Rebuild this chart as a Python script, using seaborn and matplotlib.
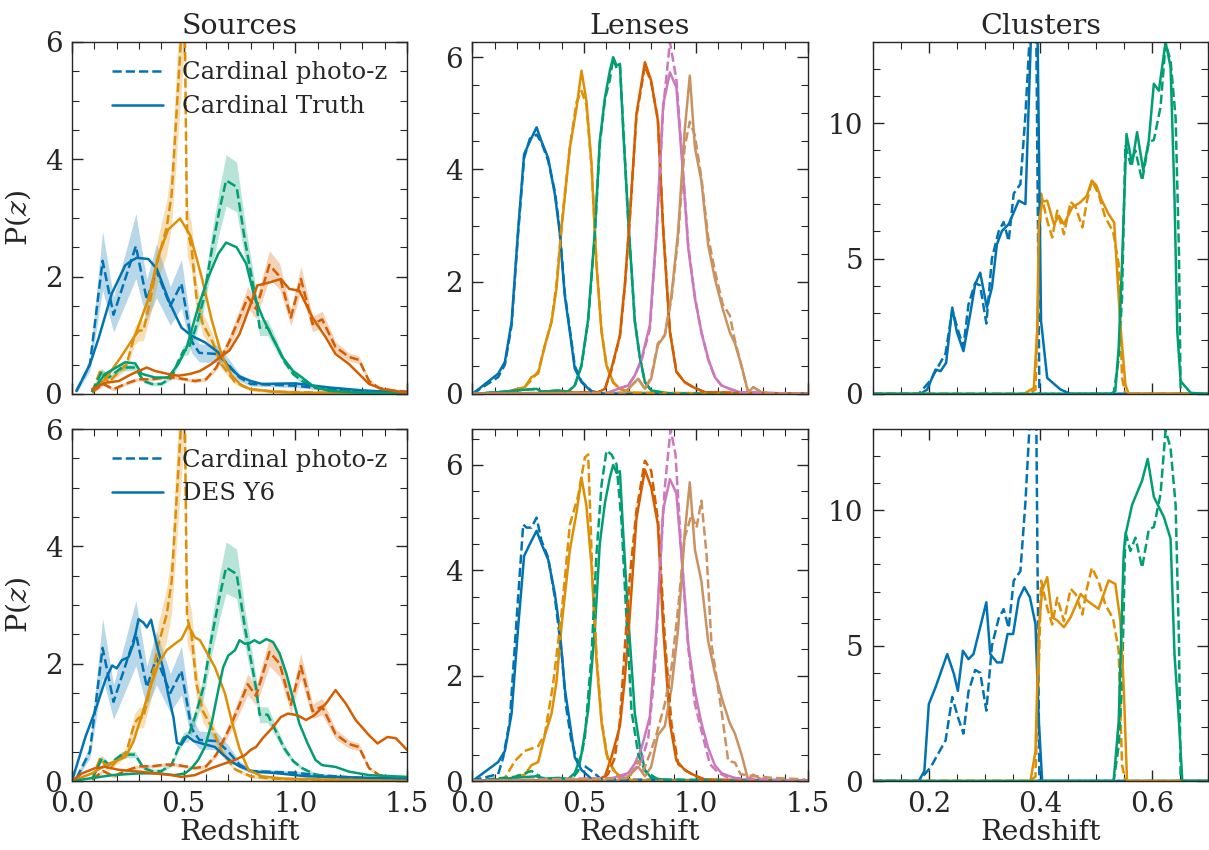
import numpy as np
import pandas as pd
import matplotlib
matplotlib.use("Agg")
import matplotlib.pyplot as plt
from matplotlib.lines import Line2D
from matplotlib.ticker import MultipleLocator
import seaborn as sns

# ---------------- colours / labels ----------------
bin_colors = ['#0173b2', '#de8f05', '#029e73', '#d55e00', '#cc78bc', '#ca9161']
col_titles = ['Sources', 'Lenses', 'Clusters']
legend_labels_top = ['Cardinal photo-z', 'Cardinal Truth']
legend_labels_bot = ['Cardinal photo-z', 'DES Y6']

# ---------------- Sources: Cardinal photo-z (dashed, shown in both rows) ----------------
src_pz_z1 = [0.02, 0.08, 0.137, 0.186, 0.286, 0.335, 0.378, 0.44, 0.49, 0.535, 0.57, 0.65, 0.70, 0.75, 0.80, 1.00, 1.10, 1.30, 1.50]
src_pz_p1 = [0.05, 0.50, 2.27, 1.35, 2.52, 1.60, 2.10, 1.50, 1.88, 0.90, 0.70, 0.68, 0.50, 0.28, 0.17, 0.14, 0.10, 0.05, 0.02]
src_pz_z2 = [0.09, 0.126, 0.164, 0.19, 0.244, 0.28, 0.30, 0.32, 0.35, 0.387, 0.424, 0.446, 0.503, 0.515, 0.535, 0.557, 0.586, 0.63, 0.67, 0.73, 0.80, 0.90, 1.00, 1.50]
src_pz_p2 = [0.03, 0.39, 0.20, 0.30, 0.50, 0.99, 1.08, 1.08, 1.59, 2.33, 2.84, 3.40, 7.00, 2.80, 2.50, 1.66, 1.19, 0.88, 0.50, 0.20, 0.08, 0.04, 0.03, 0.00]
src_pz_z3 = [0.09, 0.134, 0.164, 0.223, 0.283, 0.32, 0.357, 0.40, 0.446, 0.476, 0.50, 0.52, 0.55, 0.588, 0.625, 0.66, 0.69, 0.737, 0.775, 0.824, 0.84, 0.876, 0.913, 0.95, 0.99, 1.03, 1.09, 1.18, 1.30, 1.50]
src_pz_p3 = [0.03, 0.39, 0.28, 0.45, 0.45, 0.22, 0.17, 0.17, 0.28, 0.56, 0.74, 0.76, 1.08, 1.59, 2.44, 3.13, 3.64, 3.53, 2.60, 1.59, 1.13, 1.13, 0.85, 0.56, 0.34, 0.22, 0.11, 0.05, 0.03, 0.01]
src_pz_z4 = [0.09, 0.14, 0.186, 0.238, 0.298, 0.357, 0.417, 0.46, 0.506, 0.55, 0.60, 0.646, 0.705, 0.75, 0.787, 0.824, 0.884, 0.93, 0.98, 1.025, 1.077, 1.12, 1.18, 1.24, 1.285, 1.33, 1.375, 1.45, 1.50]
src_pz_p4 = [0.03, 0.17, 0.08, 0.17, 0.25, 0.25, 0.28, 0.28, 0.25, 0.22, 0.25, 0.45, 0.90, 1.30, 1.65, 1.45, 2.20, 2.00, 1.30, 1.96, 1.19, 1.27, 0.80, 0.63, 0.58, 0.22, 0.10, 0.05, 0.04]
src_band_frac = [0.22, 0.16, 0.12, 0.11]

# ---------------- Sources: Cardinal Truth (solid, top row) ----------------
src_tr_z1 = [0.02, 0.08, 0.12, 0.177, 0.238, 0.266, 0.29, 0.342, 0.38, 0.44, 0.49, 0.536, 0.595, 0.655, 0.705, 0.75, 0.80, 0.85, 1.00, 1.15, 1.30, 1.50]
src_tr_p1 = [0.05, 0.50, 0.96, 1.70, 2.19, 2.27, 2.32, 2.30, 2.13, 1.53, 1.13, 0.99, 0.88, 0.71, 0.45, 0.30, 0.22, 0.17, 0.18, 0.11, 0.06, 0.02]
src_tr_z2 = [0.09, 0.149, 0.214, 0.283, 0.342, 0.387, 0.43, 0.484, 0.53, 0.58, 0.625, 0.67, 0.714, 0.76, 0.80, 0.90, 1.00, 1.50]
src_tr_p2 = [0.05, 0.25, 0.60, 1.00, 1.62, 2.35, 2.80, 2.99, 2.70, 2.00, 1.27, 0.66, 0.32, 0.14, 0.08, 0.04, 0.02, 0.00]
src_tr_z3 = [0.09, 0.149, 0.238, 0.283, 0.313, 0.372, 0.43, 0.476, 0.513, 0.565, 0.61, 0.655, 0.69, 0.737, 0.78, 0.817, 0.854, 0.898, 0.943, 0.99, 1.03, 1.077, 1.15, 1.30, 1.50]
src_tr_p3 = [0.05, 0.34, 0.54, 0.52, 0.34, 0.28, 0.28, 0.51, 0.79, 1.48, 1.99, 2.39, 2.58, 2.50, 2.22, 1.65, 1.30, 0.96, 0.62, 0.39, 0.28, 0.14, 0.05, 0.02, 0.01]
src_tr_z4 = [0.09, 0.149, 0.21, 0.268, 0.335, 0.372, 0.43, 0.476, 0.528, 0.573, 0.625, 0.66, 0.705, 0.75, 0.795, 0.83, 0.884, 0.935, 0.973, 1.018, 1.077, 1.137, 1.18, 1.24, 1.285, 1.33, 1.39, 1.50]
src_tr_p4 = [0.08, 0.19, 0.22, 0.34, 0.45, 0.39, 0.34, 0.31, 0.34, 0.39, 0.51, 0.62, 0.74, 1.02, 1.48, 1.85, 1.90, 1.96, 1.79, 1.76, 1.30, 0.96, 0.68, 0.51, 0.34, 0.17, 0.08, 0.02]

# ---------------- Sources: DES Y6 (solid, bottom row) ----------------
src_des_z1 = [0.0, 0.06, 0.104, 0.149, 0.18, 0.20, 0.223, 0.253, 0.275, 0.298, 0.32, 0.335, 0.354, 0.38, 0.41, 0.43, 0.454, 0.47, 0.49, 0.515, 0.545, 0.60, 0.64, 0.67, 0.714, 0.75, 0.81, 0.90, 1.05, 1.50]
src_des_p1 = [0.0, 0.75, 1.20, 1.72, 1.97, 1.92, 2.06, 2.11, 2.34, 2.76, 2.70, 2.62, 2.75, 2.31, 1.89, 1.49, 1.09, 0.65, 0.62, 0.77, 0.68, 0.62, 0.58, 0.47, 0.33, 0.25, 0.16, 0.14, 0.08, 0.04]
src_des_z2 = [0.0, 0.09, 0.15, 0.19, 0.24, 0.275, 0.31, 0.35, 0.387, 0.424, 0.461, 0.49, 0.52, 0.55, 0.573, 0.595, 0.64, 0.685, 0.714, 0.75, 0.79, 0.85, 0.95, 1.50]
src_des_p2 = [0.0, 0.13, 0.27, 0.33, 0.41, 0.67, 1.09, 1.60, 2.00, 2.23, 2.34, 2.42, 2.65, 2.45, 2.40, 2.25, 1.94, 1.49, 1.04, 0.55, 0.19, 0.08, 0.04, 0.00]
src_des_z3 = [0.0, 0.09, 0.18, 0.30, 0.387, 0.46, 0.506, 0.536, 0.565, 0.595, 0.625, 0.655, 0.677, 0.70, 0.73, 0.75, 0.774, 0.795, 0.817, 0.84, 0.87, 0.90, 0.93, 0.96, 0.988, 1.018, 1.055, 1.09, 1.12, 1.18, 1.24, 1.33, 1.50]
src_des_p3 = [0.0, 0.05, 0.10, 0.13, 0.13, 0.10, 0.13, 0.22, 0.36, 0.58, 0.98, 1.55, 1.94, 2.14, 2.23, 2.40, 2.34, 2.35, 2.40, 2.35, 2.42, 2.37, 2.17, 1.83, 1.43, 0.98, 0.64, 0.36, 0.27, 0.24, 0.16, 0.10, 0.07]
src_des_z4 = [0.0, 0.045, 0.104, 0.149, 0.21, 0.30, 0.372, 0.446, 0.49, 0.55, 0.625, 0.685, 0.73, 0.774, 0.80, 0.824, 0.854, 0.90, 0.935, 0.967, 1.01, 1.048, 1.085, 1.137, 1.18, 1.226, 1.27, 1.33, 1.368, 1.412, 1.45, 1.50]
src_des_p4 = [0.0, 0.13, 0.22, 0.24, 0.19, 0.16, 0.13, 0.10, 0.07, 0.10, 0.22, 0.30, 0.36, 0.44, 0.53, 0.58, 0.73, 0.92, 1.09, 1.15, 1.12, 1.04, 1.12, 1.32, 1.55, 1.32, 1.04, 0.78, 0.64, 0.75, 0.73, 0.53]

# ---------------- Lenses: reference (solid, both rows) ----------------
lens_z1 = [0.0, 0.115, 0.145, 0.175, 0.204, 0.231, 0.257, 0.287, 0.309, 0.339, 0.369, 0.39, 0.413, 0.436, 0.458, 0.488, 0.533, 0.59, 1.50]
lens_p1 = [0.0, 0.36, 0.57, 1.28, 2.90, 4.27, 4.50, 4.75, 4.50, 4.20, 3.55, 2.90, 1.76, 1.10, 0.45, 0.21, 0.04, 0.0, 0.0]
lens_z2 = [0.0, 0.145, 0.234, 0.264, 0.294, 0.324, 0.354, 0.376, 0.40, 0.436, 0.466, 0.488, 0.51, 0.533, 0.555, 0.578, 0.60, 0.63, 0.66, 0.712, 1.50]
lens_p2 = [0.0, 0.03, 0.12, 0.30, 0.36, 0.87, 1.28, 1.88, 3.00, 4.39, 5.10, 5.76, 5.22, 4.09, 2.30, 1.10, 0.51, 0.21, 0.09, 0.02, 0.0]
lens_z3 = [0.0, 0.115, 0.19, 0.287, 0.309, 0.384, 0.428, 0.458, 0.488, 0.518, 0.548, 0.57, 0.593, 0.615, 0.63, 0.645, 0.66, 0.675, 0.697, 0.727, 0.749, 0.772, 0.80, 0.89, 1.50]
lens_p3 = [0.0, 0.03, 0.06, 0.09, 0.04, 0.06, 0.04, 0.15, 0.51, 1.34, 2.90, 4.51, 5.28, 5.76, 6.00, 5.85, 5.88, 4.69, 3.13, 1.28, 0.66, 0.21, 0.06, 0.0, 0.0]
lens_z4 = [0.0, 0.563, 0.593, 0.622, 0.66, 0.682, 0.704, 0.734, 0.772, 0.80, 0.83, 0.854, 0.884, 0.913, 0.95, 0.988, 1.04, 1.50]
lens_p4 = [0.0, 0.03, 0.09, 0.45, 1.04, 1.94, 3.13, 4.98, 5.91, 5.58, 4.87, 2.90, 1.10, 0.39, 0.21, 0.12, 0.03, 0.0]
lens_z5 = [0.0, 0.593, 0.652, 0.697, 0.727, 0.757, 0.794, 0.824, 0.854, 0.884, 0.913, 0.943, 0.966, 0.996, 1.025, 1.055, 1.085, 1.115, 1.152, 1.197, 1.50]
lens_p5 = [0.0, 0.0, 0.09, 0.15, 0.33, 0.63, 1.22, 2.90, 5.16, 5.73, 5.46, 3.90, 2.60, 1.70, 1.10, 0.63, 0.30, 0.15, 0.09, 0.03, 0.0]
lens_z6 = [0.0, 0.68, 0.712, 0.742, 0.772, 0.80, 0.83, 0.861, 0.891, 0.921, 0.95, 0.973, 0.996, 1.025, 1.055, 1.085, 1.12, 1.152, 1.175, 1.204, 1.234, 1.257, 1.294, 1.34, 1.50]
lens_p6 = [0.0, 0.02, 0.15, 0.27, 0.09, 0.27, 0.87, 1.04, 1.76, 2.90, 4.69, 5.67, 4.39, 3.79, 2.66, 2.06, 1.52, 1.10, 0.90, 0.51, 0.03, 0.12, 0.03, 0.0, 0.0]

# ---------------- Lenses: top-row dashed ----------------
lens_top_p1 = [0.0, 0.30, 0.52, 1.22, 2.85, 4.20, 4.55, 4.62, 4.48, 4.15, 3.60, 2.95, 1.80, 1.15, 0.50, 0.22, 0.05, 0.0, 0.0]
lens_top_p2 = [0.0, 0.03, 0.12, 0.25, 0.40, 0.85, 1.30, 1.95, 3.05, 4.40, 5.20, 5.40, 5.15, 4.05, 2.35, 1.12, 0.50, 0.20, 0.09, 0.02, 0.0]
lens_top_p3 = [0.0, 0.03, 0.06, 0.09, 0.04, 0.06, 0.04, 0.15, 0.50, 1.30, 2.85, 4.45, 5.25, 5.60, 5.98, 5.80, 5.85, 4.75, 3.10, 1.30, 0.66, 0.21, 0.06, 0.0, 0.0]
lens_top_p4 = [0.0, 0.03, 0.09, 0.42, 1.02, 1.90, 3.10, 4.95, 5.85, 5.55, 4.90, 2.95, 1.12, 0.40, 0.21, 0.12, 0.03, 0.0]
lens_top_p5 = [0.0, 0.0, 0.09, 0.15, 0.33, 0.60, 1.15, 2.85, 5.10, 6.27, 5.60, 3.95, 2.65, 1.72, 1.10, 0.62, 0.30, 0.15, 0.09, 0.03, 0.0]
lens_top_p6 = [0.0, 0.02, 0.15, 0.27, 0.09, 0.30, 0.90, 1.05, 1.70, 2.80, 4.40, 4.85, 4.60, 3.85, 2.80, 2.20, 1.60, 1.40, 0.95, 0.50, 0.03, 0.12, 0.03, 0.0, 0.0]

# ---------------- Lenses: bottom-row dashed ----------------
lensb_z1 = [0.0, 0.115, 0.137, 0.167, 0.197, 0.227, 0.242, 0.264, 0.287, 0.309, 0.339, 0.369, 0.40, 0.42, 0.443, 0.473, 0.503, 0.533, 0.578, 1.50]
lensb_p1 = [0.01, 0.13, 0.44, 1.14, 3.04, 4.87, 4.81, 4.81, 5.00, 4.56, 4.24, 3.48, 2.40, 1.39, 0.76, 0.32, 0.28, 0.19, 0.03, 0.0]
lensb_z2 = [0.0, 0.145, 0.19, 0.234, 0.294, 0.324, 0.361, 0.40, 0.436, 0.473, 0.503, 0.518, 0.536, 0.555, 0.578, 0.607, 0.652, 0.712, 1.50]
lensb_p2 = [0.0, 0.06, 0.38, 0.57, 0.66, 0.89, 1.84, 3.23, 4.87, 5.41, 6.14, 6.20, 3.99, 2.40, 1.14, 0.38, 0.10, 0.01, 0.0]
lensb_z3 = [0.0, 0.19, 0.264, 0.309, 0.443, 0.473, 0.503, 0.533, 0.555, 0.578, 0.60, 0.622, 0.645, 0.667, 0.69, 0.712, 0.742, 0.772, 0.831, 1.50]
lensb_p3 = [0.0, 0.08, 0.19, 0.06, 0.03, 0.19, 0.82, 2.40, 4.30, 5.63, 6.27, 6.20, 6.01, 4.94, 3.04, 1.33, 0.51, 0.19, 0.03, 0.0]
lensb_z4 = [0.0, 0.578, 0.607, 0.637, 0.66, 0.682, 0.704, 0.734, 0.772, 0.80, 0.831, 0.861, 0.891, 0.921, 0.958, 0.996, 1.04, 1.50]
lensb_p4 = [0.0, 0.03, 0.13, 0.44, 1.14, 2.53, 3.86, 5.13, 6.08, 5.89, 4.94, 2.72, 1.08, 0.32, 0.19, 0.10, 0.01, 0.0]
lensb_z5 = [0.0, 0.652, 0.712, 0.757, 0.787, 0.816, 0.839, 0.861, 0.887, 0.909, 0.936, 0.966, 0.996, 1.033, 1.063, 1.10, 1.145, 1.50]
lensb_p5 = [0.0, 0.06, 0.16, 0.38, 0.82, 2.09, 3.99, 5.57, 6.68, 6.20, 4.30, 2.53, 1.46, 0.82, 0.32, 0.16, 0.06, 0.0]
lensb_z6 = [0.0, 0.50, 0.70, 0.742, 0.764, 0.794, 0.824, 0.861, 0.891, 0.921, 0.95, 0.981, 1.003, 1.025, 1.048, 1.07, 1.093, 1.115, 1.145, 1.175, 1.20, 1.25, 1.34, 1.49]
lensb_p6 = [0.0, 0.04, 0.05, 0.38, 0.19, 0.51, 0.89, 1.46, 2.15, 3.29, 4.62, 5.06, 4.81, 5.32, 4.30, 2.60, 1.96, 1.33, 0.38, 0.35, 0.13, 0.10, 0.06, 0.03]

# ---------------- Clusters: Cardinal photo-z (dashed, both rows) ----------------
cl_pz_z1 = [0.10, 0.182, 0.203, 0.23, 0.242, 0.253, 0.262, 0.271, 0.283, 0.292, 0.303, 0.313, 0.325, 0.334, 0.343, 0.352, 0.364, 0.373, 0.384, 0.392, 0.398, 0.70]
cl_pz_p1 = [0.0, 0.0, 0.50, 1.50, 3.10, 2.30, 1.75, 3.30, 4.10, 4.00, 2.60, 5.00, 6.00, 6.35, 5.65, 7.40, 7.75, 10.30, 14.50, 14.50, 0.0, 0.0]
cl_pz_z2 = [0.10, 0.379, 0.391, 0.397, 0.401, 0.412, 0.421, 0.43, 0.442, 0.454, 0.463, 0.475, 0.483, 0.492, 0.504, 0.516, 0.53, 0.54, 0.546, 0.552, 0.70]
cl_pz_p2 = [0.0, 0.0, 0.16, 4.20, 7.40, 6.40, 5.78, 6.77, 5.90, 7.10, 6.90, 6.15, 7.10, 7.88, 7.38, 6.52, 6.00, 4.80, 0.60, 0.0, 0.0]
cl_pz_z3 = [0.10, 0.531, 0.54, 0.546, 0.552, 0.561, 0.57, 0.582, 0.594, 0.603, 0.615, 0.624, 0.633, 0.642, 0.648, 0.651, 0.70]
cl_pz_p3 = [0.0, 0.0, 1.30, 3.55, 9.20, 8.50, 8.99, 7.88, 9.30, 9.38, 10.60, 12.95, 12.30, 10.20, 5.20, 0.0, 0.0]

# ---------------- Clusters: Cardinal Truth (solid, top row) ----------------
cl_tr_z1 = [0.10, 0.185, 0.197, 0.212, 0.221, 0.231, 0.242, 0.25, 0.262, 0.274, 0.283, 0.292, 0.304, 0.313, 0.322, 0.331, 0.343, 0.352, 0.361, 0.373, 0.385, 0.394, 0.401, 0.412, 0.436, 0.454, 0.70]
cl_tr_p1 = [0.0, 0.0, 0.16, 0.90, 0.84, 1.15, 3.19, 2.30, 1.58, 2.94, 4.05, 4.48, 3.19, 3.93, 5.53, 6.02, 6.27, 6.70, 7.14, 7.01, 14.50, 14.50, 2.69, 0.59, 0.16, 0.0, 0.0]
cl_tr_z2 = [0.10, 0.37, 0.388, 0.394, 0.397, 0.403, 0.412, 0.424, 0.433, 0.442, 0.457, 0.471, 0.483, 0.492, 0.50, 0.51, 0.522, 0.532, 0.543, 0.552, 0.558, 0.70]
cl_tr_p2 = [0.0, 0.0, 0.22, 2.30, 6.27, 7.10, 7.14, 6.27, 6.58, 6.27, 6.90, 7.07, 7.32, 7.88, 7.70, 7.14, 6.64, 6.33, 2.57, 0.35, 0.0, 0.0]
cl_tr_z3 = [0.10, 0.525, 0.534, 0.54, 0.546, 0.554, 0.564, 0.573, 0.584, 0.594, 0.603, 0.612, 0.624, 0.633, 0.64, 0.645, 0.651, 0.669, 0.70]
cl_tr_p3 = [0.0, 0.0, 0.10, 1.70, 4.80, 9.60, 8.50, 9.67, 8.25, 9.36, 11.46, 11.20, 13.00, 12.07, 7.26, 2.30, 0.47, 0.04, 0.0]

# ---------------- Clusters: DES Y6 (solid, bottom row) ----------------
cl_des_z1 = [0.10, 0.182, 0.192, 0.20, 0.212, 0.233, 0.245, 0.252, 0.261, 0.271, 0.28, 0.303, 0.31, 0.322, 0.331, 0.341, 0.351, 0.361, 0.371, 0.381, 0.391, 0.397, 0.403, 0.70]
cl_des_p1 = [0.0, 0.0, 0.37, 2.84, 3.46, 4.69, 3.95, 3.33, 4.81, 4.50, 4.69, 6.60, 4.69, 4.38, 4.38, 5.43, 5.43, 6.73, 7.16, 6.79, 5.80, 2.20, 0.0, 0.0]
cl_des_z2 = [0.10, 0.382, 0.391, 0.397, 0.403, 0.412, 0.421, 0.43, 0.442, 0.454, 0.472, 0.483, 0.504, 0.522, 0.534, 0.543, 0.549, 0.555, 0.70]
cl_des_p2 = [0.0, 0.0, 1.10, 5.68, 7.04, 7.53, 6.05, 5.93, 5.68, 6.05, 6.91, 6.67, 6.36, 7.41, 7.28, 5.93, 3.50, 0.0, 0.0]
cl_des_z3 = [0.10, 0.531, 0.54, 0.549, 0.552, 0.564, 0.582, 0.592, 0.603, 0.621, 0.633, 0.64, 0.648, 0.654, 0.70]
cl_des_p3 = [0.0, 0.0, 2.20, 8.40, 9.07, 10.20, 11.10, 11.90, 10.50, 9.75, 8.95, 4.69, 2.20, 0.0, 0.0]

# ---------------- assemble ----------------
src_pz = [(src_pz_z1, src_pz_p1), (src_pz_z2, src_pz_p2), (src_pz_z3, src_pz_p3), (src_pz_z4, src_pz_p4)]
src_tr = [(src_tr_z1, src_tr_p1), (src_tr_z2, src_tr_p2), (src_tr_z3, src_tr_p3), (src_tr_z4, src_tr_p4)]
src_des = [(src_des_z1, src_des_p1), (src_des_z2, src_des_p2), (src_des_z3, src_des_p3), (src_des_z4, src_des_p4)]
lens_ref = [(lens_z1, lens_p1), (lens_z2, lens_p2), (lens_z3, lens_p3), (lens_z4, lens_p4), (lens_z5, lens_p5), (lens_z6, lens_p6)]
lens_top = [(lens_z1, lens_top_p1), (lens_z2, lens_top_p2), (lens_z3, lens_top_p3), (lens_z4, lens_top_p4), (lens_z5, lens_top_p5), (lens_z6, lens_top_p6)]
lens_bot = [(lensb_z1, lensb_p1), (lensb_z2, lensb_p2), (lensb_z3, lensb_p3), (lensb_z4, lensb_p4), (lensb_z5, lensb_p5), (lensb_z6, lensb_p6)]
cl_pz = [(cl_pz_z1, cl_pz_p1), (cl_pz_z2, cl_pz_p2), (cl_pz_z3, cl_pz_p3)]
cl_tr = [(cl_tr_z1, cl_tr_p1), (cl_tr_z2, cl_tr_p2), (cl_tr_z3, cl_tr_p3)]
cl_des = [(cl_des_z1, cl_des_p1), (cl_des_z2, cl_des_p2), (cl_des_z3, cl_des_p3)]

# ---------------- style ----------------
sns.set_theme(style="ticks")
TXT = '#262626'
plt.rcParams['font.family'] = ['DejaVu Serif']
plt.rcParams['mathtext.fontset'] = 'dejavuserif'
plt.rcParams['text.color'] = TXT
plt.rcParams['axes.labelcolor'] = TXT
plt.rcParams['xtick.color'] = TXT
plt.rcParams['ytick.color'] = TXT
plt.rcParams['axes.edgecolor'] = TXT

LW = 1.8
FS_TICK = 20
FS_LAB = 20.5
FS_LEG = 17.5

fig, axes = plt.subplots(2, 3, figsize=(12.09, 8.5), dpi=100)
fig.subplots_adjust(left=72/1209, right=1208/1209, top=1-42/850, bottom=1-781/850,
                    wspace=0.1955, hspace=0.1)


def draw(ax, z, p, color, ls):
    df = pd.DataFrame({'z': z, 'p': p})
    sns.lineplot(data=df, x='z', y='p', ax=ax, color=color, linestyle=ls, lw=LW,
                 estimator=None, sort=False, legend=False)


for row in range(2):
    # Sources
    ax = axes[row, 0]
    for i, (z, p) in enumerate(src_pz):
        p = np.asarray(p)
        err = np.maximum(src_band_frac[i] * p, 0.03)
        ax.fill_between(z, p - err, p + err, color=bin_colors[i], alpha=0.28, lw=0)
    solid = src_tr if row == 0 else src_des
    for i, (z, p) in enumerate(src_pz):
        draw(ax, z, p, bin_colors[i], '--')
    for i, (z, p) in enumerate(solid):
        draw(ax, z, p, bin_colors[i], '-')
    ax.set_xlim(0, 1.5)
    ax.set_ylim(0, 6)
    ax.xaxis.set_major_locator(MultipleLocator(0.5))
    ax.xaxis.set_minor_locator(MultipleLocator(0.1))
    ax.yaxis.set_major_locator(MultipleLocator(2))
    ax.yaxis.set_minor_locator(MultipleLocator(0.5))
    labs = legend_labels_top if row == 0 else legend_labels_bot
    handles = [Line2D([], [], color=bin_colors[0], ls='--', lw=LW),
               Line2D([], [], color=bin_colors[0], ls='-', lw=LW)]
    ax.legend(handles, labs, loc='upper right', frameon=False, fontsize=FS_LEG,
              handlelength=2.1, handletextpad=0.8, borderaxespad=0.4, labelspacing=0.45)

    # Lenses
    ax = axes[row, 1]
    dashed = lens_top if row == 0 else lens_bot
    for i, (z, p) in enumerate(lens_ref):
        draw(ax, z, p, bin_colors[i], '-')
    for i, (z, p) in enumerate(dashed):
        draw(ax, z, p, bin_colors[i], '--')
    ymax = max(max(p) for _, p in dashed + lens_ref)
    ax.set_xlim(0, 1.5)
    ax.set_ylim(0, ymax)
    ax.xaxis.set_major_locator(MultipleLocator(0.5))
    ax.xaxis.set_minor_locator(MultipleLocator(0.1))
    ax.yaxis.set_major_locator(MultipleLocator(2))
    ax.yaxis.set_minor_locator(MultipleLocator(0.5))

    # Clusters
    ax = axes[row, 2]
    solid = cl_tr if row == 0 else cl_des
    for i, (z, p) in enumerate(cl_pz):
        draw(ax, z, p, bin_colors[i], '--')
    for i, (z, p) in enumerate(solid):
        draw(ax, z, p, bin_colors[i], '-')
    ax.set_xlim(0.1, 0.7)
    ax.set_ylim(0, 13)
    ax.xaxis.set_major_locator(MultipleLocator(0.2))
    ax.xaxis.set_minor_locator(MultipleLocator(0.05))
    ax.yaxis.set_major_locator(MultipleLocator(5))
    ax.yaxis.set_minor_locator(MultipleLocator(1))

for r in range(2):
    for c in range(3):
        ax = axes[r, c]
        ax.tick_params(which='both', direction='in', top=True, right=True,
                       labelsize=FS_TICK, pad=7)
        ax.tick_params(which='major', length=8, width=1.0)
        ax.tick_params(which='minor', length=5, width=0.8)
        for s in ax.spines.values():
            s.set_linewidth(1.0)
        ax.set_xlabel('')
        ax.set_ylabel('')
        if r == 0:
            ax.set_title(col_titles[c], fontsize=FS_LAB, pad=6)
            ax.tick_params(labelbottom=False)
        else:
            ax.set_xlabel('Redshift', fontsize=FS_LAB, labelpad=1)
        if c == 0:
            ax.set_ylabel(r'P($z$)', fontsize=FS_LAB, labelpad=8)

fig.savefig('out.png', dpi=100)
